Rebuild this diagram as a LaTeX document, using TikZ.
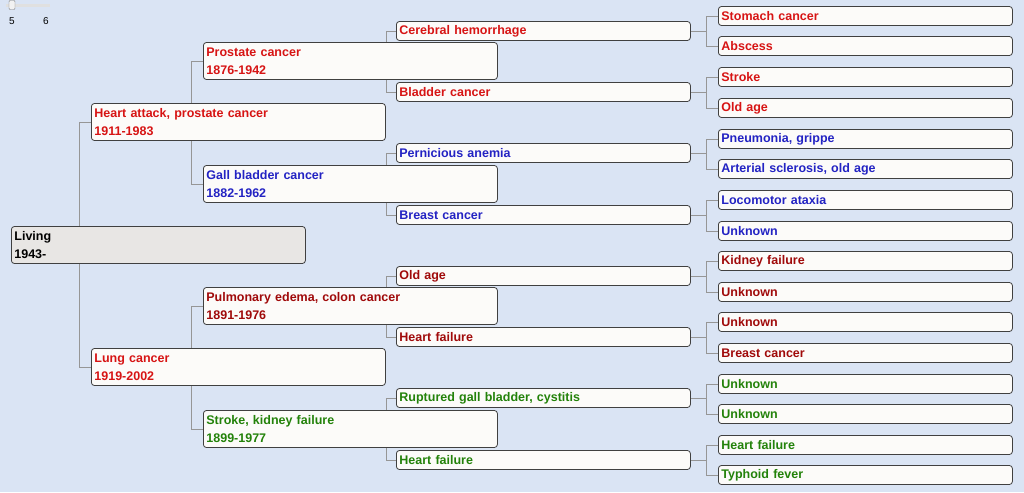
\documentclass[tikz,border=0pt]{standalone}
\usepackage{fontspec}
\setmainfont{Liberation Sans}
\definecolor{bg}{RGB}{218,228,244}
\definecolor{cR}{RGB}{215,20,20}
\definecolor{cB}{RGB}{35,35,195}
\definecolor{cD}{RGB}{160,10,10}
\definecolor{cG}{RGB}{35,130,10}
\definecolor{lnk}{RGB}{150,150,150}
\definecolor{bxfill}{RGB}{252,251,249}
\definecolor{rootfill}{RGB}{232,230,228}
\begin{document}
\begin{tikzpicture}[x=1pt,y=-1pt,
  box/.style={draw=black!75,line width=0.8pt,rounded corners=3pt,fill=bxfill,anchor=west,
    font=\fontsize{12.5}{18}\selectfont\bfseries,align=left,inner xsep=3pt,inner ysep=0pt},
  one/.style={box,minimum width=294pt,minimum height=19pt,text width=288pt},
  two/.style={box,minimum width=294pt,minimum height=37pt,text width=288pt},
  lk/.style={draw=lnk,line width=0.9pt}]
\fill[bg] (0,0) rectangle (1024,492);
\useasboundingbox (0,0) rectangle (1024,492);
% slider
\fill[black!12] (6,4) rectangle (50,7);
\node[draw=black!50,fill=black!5,rounded corners=1pt,minimum width=6pt,minimum height=9pt,inner sep=0pt] (thumb) at (12,5) {};
\node[font=\fontsize{10}{10}\selectfont] (s5) at (12,21) {5};
\node[font=\fontsize{10}{10}\selectfont] (s6) at (46,21) {6};
% gen4
\node[one,text=cR] (d1) at (718,16) {Stomach cancer};
\node[one,text=cR] (d2) at (718,46) {Abscess};
\node[one,text=cR] (d3) at (718,77) {Stroke};
\node[one,text=cR] (d4) at (718,108) {Old age};
\node[one,text=cB] (d5) at (718,139) {Pneumonia, grippe};
\node[one,text=cB] (d6) at (718,169) {Arterial sclerosis, old age};
\node[one,text=cB] (d7) at (718,200) {Locomotor ataxia};
\node[one,text=cB] (d8) at (718,231) {Unknown};
\node[one,text=cD] (d9) at (718,261) {Kidney failure};
\node[one,text=cD] (d10) at (718,292) {Unknown};
\node[one,text=cD] (d11) at (718,322) {Unknown};
\node[one,text=cD] (d12) at (718,353) {Breast cancer};
\node[one,text=cG] (d13) at (718,384) {Unknown};
\node[one,text=cG] (d14) at (718,414) {Unknown};
\node[one,text=cG] (d15) at (718,445) {Heart failure};
\node[one,text=cG] (d16) at (718,475) {Typhoid fever};
% gen4 links
\foreach \p/\a/\b in {c1/d1/d2,c2/d3/d4,c3/d5/d6,c4/d7/d8,c5/d9/d10,c6/d11/d12,c7/d13/d14,c8/d15/d16}{
  \path[lk] (\a.west) -- ++(-12,0) |- (\b.west);}
% gen3 links (drawn before boxes)
\coordinate (t1) at (396,31); \coordinate (t2) at (396,92);
\coordinate (t3) at (396,153); \coordinate (t4) at (396,215);
\coordinate (t5) at (396,276); \coordinate (t6) at (396,337);
\coordinate (t7) at (396,398); \coordinate (t8) at (396,460);
\foreach \a/\b in {t1/t2,t3/t4,t5/t6,t7/t8}{\path[lk] (\a) -- ++(-10,0) |- (\b);}
% gen2 and gen1 links
\coordinate (u1) at (203,61); \coordinate (u2) at (203,184);
\coordinate (u3) at (203,306); \coordinate (u4) at (203,429);
\foreach \a/\b in {u1/u2,u3/u4}{\path[lk] (\a) -- ++(-12,0) |- (\b);}
\coordinate (v1) at (91,122); \coordinate (v2) at (91,367);
\path[lk] (v1) -- ++(-12,0) |- (v2);
% gen3
\node[one,text=cR] (c1) at (t1) {Cerebral hemorrhage};
\node[one,text=cR] (c2) at (t2) {Bladder cancer};
\node[one,text=cB] (c3) at (t3) {Pernicious anemia};
\node[one,text=cB] (c4) at (t4) {Breast cancer};
\node[one,text=cD] (c5) at (t5) {Old age};
\node[one,text=cD] (c6) at (t6) {Heart failure};
\node[one,text=cG] (c7) at (t7) {Ruptured gall bladder, cystitis};
\node[one,text=cG] (c8) at (t8) {Heart failure};
\foreach \p in {c1,c2,c3,c4,c5,c6,c7,c8}{\path[lk] (\p.east) -- ++(15,0);}
% gen2
\node[two,text=cR] (b1) at (u1) {Prostate cancer\\1876-1942};
\node[two,text=cB] (b2) at (u2) {Gall bladder cancer\\1882-1962};
\node[two,text=cD] (b3) at (u3) {Pulmonary edema, colon cancer\\1891-1976};
\node[two,text=cG] (b4) at (u4) {Stroke, kidney failure\\1899-1977};
% gen1
\node[two,text=cR] (a1) at (v1) {Heart attack, prostate cancer\\1911-1983};
\node[two,text=cR] (a2) at (v2) {Lung cancer\\1919-2002};
% root
\node[two,fill=rootfill,text=black] (r) at (11,245) {Living\\1943-};
\end{tikzpicture}
\end{document}
